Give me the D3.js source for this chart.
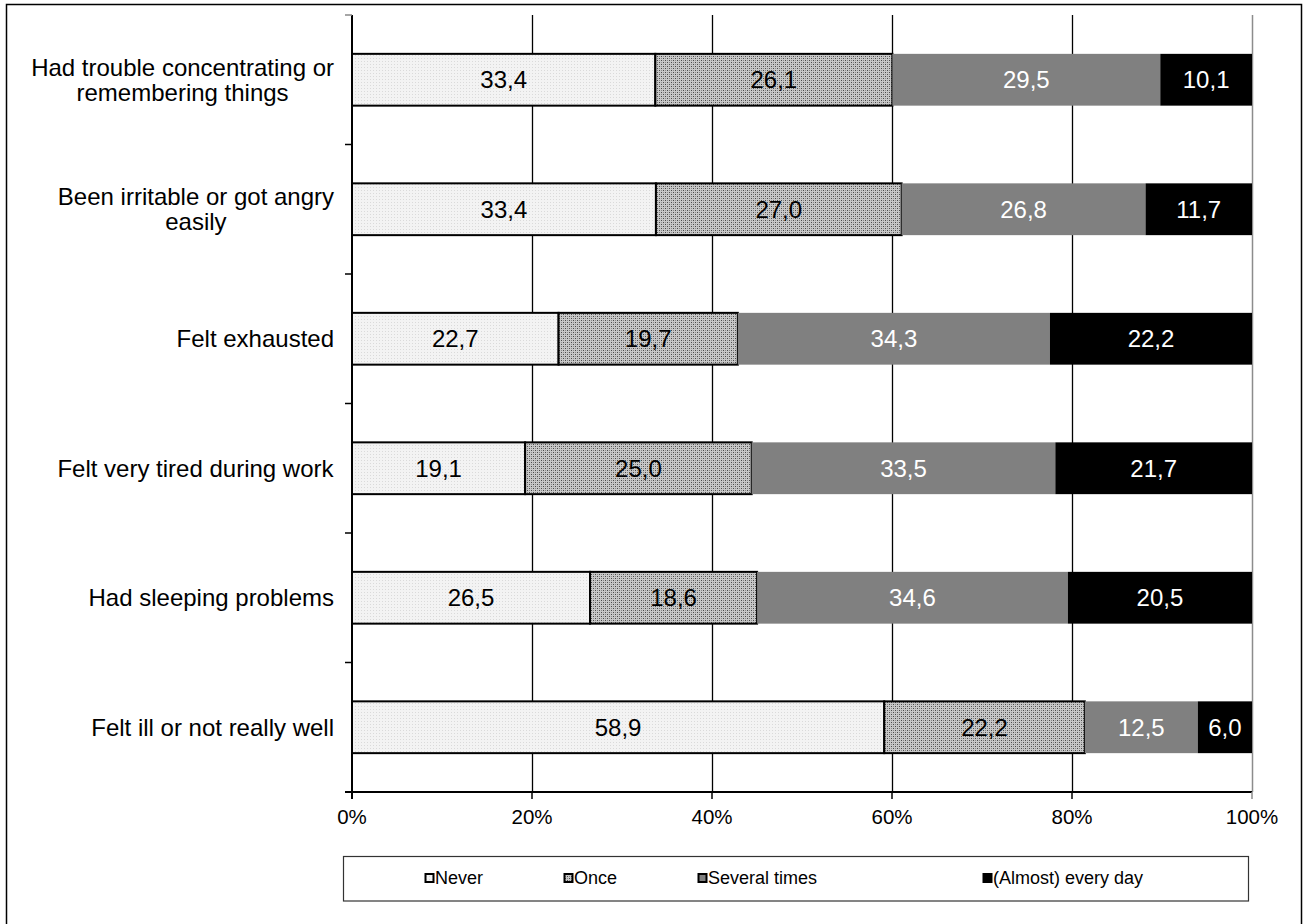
<!DOCTYPE html>
<html>
<head>
<meta charset="utf-8">
<script src="https://cdn.jsdelivr.net/npm/d3@7"></script>
<style>
  html, body { margin: 0; padding: 0; background: #fff; }
  svg { display: block; font-family: "Liberation Sans", Arial, sans-serif; }
</style>
</head>
<body>
<svg id="chart" width="1305" height="924"></svg>
<script>
// Survey items (top to bottom) and the share of answers per frequency
const categories = [
  ["Had trouble concentrating or", "remembering things"],
  ["Been irritable or got angry", "easily"],
  ["Felt exhausted"],
  ["Felt very tired during work"],
  ["Had sleeping problems"],
  ["Felt ill or not really well"]
];
const seriesNames = ["Never", "Once", "Several times", "(Almost) every day"];
const never        = [33.4, 33.4, 22.7, 19.1, 26.5, 58.9];
const once         = [26.1, 27.0, 19.7, 25.0, 18.6, 22.2];
const severalTimes = [29.5, 26.8, 34.3, 33.5, 34.6, 12.5];
const everyDay     = [10.1, 11.7, 22.2, 21.7, 20.5, 6.0];
const tickValues = [0, 0.2, 0.4, 0.6, 0.8, 1.0];

const svg = d3.select("#chart");
const defs = svg.append("defs");

// fine stipple for "Never"
const pNever = defs.append("pattern").attr("id", "pNever")
  .attr("width", 3).attr("height", 3).attr("patternUnits", "userSpaceOnUse");
pNever.append("rect").attr("width", 3).attr("height", 3).attr("fill", "#f3f3f3");
pNever.append("rect").attr("x", 1).attr("y", 1).attr("width", 1).attr("height", 1).attr("fill", "#dadada");

// coarse dotted texture for "Once"
const pOnce = defs.append("pattern").attr("id", "pOnce")
  .attr("width", 4).attr("height", 4).attr("patternUnits", "userSpaceOnUse");
pOnce.append("rect").attr("width", 4).attr("height", 4).attr("fill", "#c8c8c8");
pOnce.append("rect").attr("x", 1).attr("y", 0).attr("width", 1).attr("height", 1).attr("fill", "#4a4a4a");
pOnce.append("rect").attr("x", 3).attr("y", 2).attr("width", 1).attr("height", 1).attr("fill", "#4a4a4a");
pOnce.append("rect").attr("x", 1).attr("y", 2).attr("width", 1).attr("height", 1).attr("fill", "#8a8a8a");
pOnce.append("rect").attr("x", 3).attr("y", 0).attr("width", 1).attr("height", 1).attr("fill", "#8a8a8a");

const fills = ["url(#pNever)", "url(#pOnce)", "#808080", "#000000"];
const strokes = ["#000", "#000", "none", "none"];
const labelColors = ["#000", "#000", "#fff", "#fff"];

// outer frame
svg.append("rect").attr("x", 6.5).attr("y", 4.5).attr("width", 1295).attr("height", 940)
  .attr("fill", "none").attr("stroke", "#000").attr("stroke-width", 1.5);

const plotLeft = 352, plotRight = 1252, plotTop = 15, plotBottom = 792;
const x = d3.scaleLinear().domain([0, 1]).range([plotLeft, plotRight]);
const y = d3.scaleBand().domain(d3.range(categories.length))
  .range([plotTop, plotBottom]).paddingInner(0.6).paddingOuter(0.3);

// vertical gridlines
svg.append("g").selectAll("line").data(tickValues.slice(1)).join("line")
  .attr("x1", d => x(d) + 0.5).attr("x2", d => x(d) + 0.5)
  .attr("y1", plotTop).attr("y2", plotBottom)
  .attr("stroke", d => d === 1 ? "#8c8c8c" : "#000")
  .attr("stroke-width", d => d === 1 ? 1.5 : 1.3);

// stacked, normalised rows
const rows = categories.map((c, i) => {
  const vals = [never[i], once[i], severalTimes[i], everyDay[i]];
  const total = d3.sum(vals);
  let acc = 0;
  return vals.map((v, k) => {
    const seg = { row: i, k, v, x0: acc / total, x1: (acc + v) / total };
    acc += v;
    return seg;
  });
});

const segs = rows.flat();
const bars = svg.append("g");
bars.selectAll("rect").data(segs).join("rect")
  .attr("x", d => x(d.x0)).attr("width", d => x(d.x1) - x(d.x0))
  .attr("y", d => y(d.row)).attr("height", y.bandwidth())
  .attr("fill", d => fills[d.k])
  .attr("stroke", d => strokes[d.k]).attr("stroke-width", 2);

bars.selectAll("text").data(segs).join("text")
  .attr("x", d => (x(d.x0) + x(d.x1)) / 2)
  .attr("y", d => y(d.row) + y.bandwidth() / 2)
  .attr("dy", "0.36em")
  .attr("text-anchor", "middle")
  .attr("font-size", 24)
  .attr("fill", d => labelColors[d.k])
  .text(d => d.v.toFixed(1).replace(".", ","));

// category axis
const axisG = svg.append("g");
axisG.append("line").attr("x1", plotLeft).attr("x2", plotLeft).attr("y1", plotTop).attr("y2", plotBottom + 7)
  .attr("stroke", "#000").attr("stroke-width", 2);
const step = y.step();
axisG.selectAll("line.tick").data(d3.range(categories.length + 1)).join("line")
  .attr("class", "tick")
  .attr("x1", plotLeft - 7).attr("x2", plotLeft)
  .attr("y1", i => plotTop + i * step).attr("y2", i => plotTop + i * step)
  .attr("stroke", i => i === 0 ? "#888" : "#000").attr("stroke-width", 1.5);

const catLabels = axisG.selectAll("g.cat").data(categories).join("g").attr("class", "cat");
catLabels.each(function (lines, i) {
  const g = d3.select(this);
  const cy = y(i) + y.bandwidth() / 2;
  const lh = 25;
  const t = g.append("text").attr("font-size", 24).attr("fill", "#000").attr("text-anchor", "middle");
  lines.forEach((ln, j) => {
    t.append("tspan").attr("x", 0)
      .attr("y", cy + (j - (lines.length - 1) / 2) * lh)
      .attr("dy", "0.36em").text(ln);
  });
  const w = t.node().getBBox().width;
  t.selectAll("tspan").attr("x", 334 - w / 2);
});

// value axis
const xAxis = svg.append("g");
xAxis.append("line").attr("x1", plotLeft - 7).attr("x2", plotRight).attr("y1", plotBottom).attr("y2", plotBottom)
  .attr("stroke", "#000").attr("stroke-width", 2);
xAxis.selectAll("line.tick").data(tickValues).join("line").attr("class", "tick")
  .attr("x1", d => x(d)).attr("x2", d => x(d)).attr("y1", plotBottom).attr("y2", plotBottom + 7)
  .attr("stroke", d => d === 1 ? "#8c8c8c" : "#000").attr("stroke-width", 1.5);
xAxis.selectAll("text").data(tickValues).join("text")
  .attr("x", d => x(d)).attr("y", 817).attr("dy", "0.36em")
  .attr("text-anchor", "middle").attr("font-size", 20.5).attr("fill", "#000")
  .text(d => d3.format(".0%")(d));

// legend
const legend = svg.append("g");
legend.append("rect").attr("x", 343.5).attr("y", 856.5).attr("width", 905).attr("height", 44.5)
  .attr("fill", "#fff").attr("stroke", "#333").attr("stroke-width", 1.2);
const legX = [425, 564, 698, 983];
const legItems = legend.selectAll("g").data(seriesNames).join("g")
  .attr("transform", (d, i) => `translate(${legX[i]},878)`);
legItems.append("rect").attr("x", 0.5).attr("y", -4).attr("width", 8).attr("height", 8)
  .attr("fill", (d, i) => fills[i]).attr("stroke", "#000").attr("stroke-width", 2);
legItems.append("text").attr("x", 10).attr("dy", "0.36em")
  .attr("font-size", 18).attr("fill", "#000").text(d => d);
</script>
</body>
</html>
